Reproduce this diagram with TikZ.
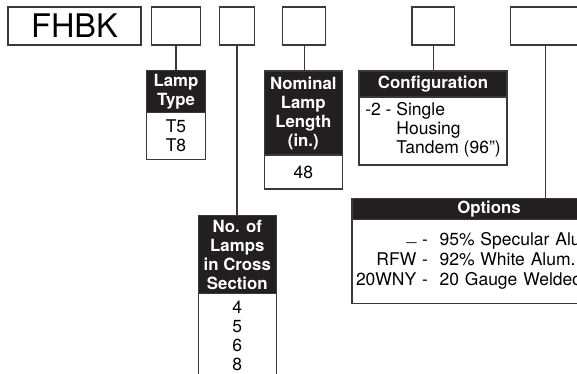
\documentclass[tikz,border=0pt]{standalone}
\usepackage{fontspec}
\setmainfont{TeX Gyre Heros}
\usetikzlibrary{positioning}
\definecolor{headfill}{HTML}{231F20}
\definecolor{rulegray}{HTML}{3A3A3A}
\tikzset{
  codebox/.style={draw=rulegray, line width=1.3pt, inner sep=0pt, outer sep=0pt, minimum height=38pt},
  spechead/.style={draw=rulegray, fill=headfill, text=white, line width=1.3pt, inner sep=0pt, outer sep=0pt,
    align=center, font=\bfseries\fontsize{16.8}{19}\selectfont},
  specbody/.style={draw=rulegray, fill=white, line width=1.3pt, inner sep=0pt, outer sep=0pt,
    align=center, font=\fontsize{17.5}{19}\selectfont},
  link/.style={draw=rulegray, line width=1.3pt}
}
% name, x, top, width, head height, body height, head text, body text, body options
\newcommand\specbox[9]{%
  \node[spechead, anchor=north, minimum width=#4pt, minimum height=#5pt] (#1) at (#2,#3) {#7};
  \node[specbody, minimum width=#4pt, minimum height=#6pt, below=0pt of #1, #9] (#1body) {#8};
}

\begin{document}
\begin{tikzpicture}[x=1pt, y=-1pt]
        \useasboundingbox (0,0) rectangle (577,373);
        \clip (0,0) rectangle (577,373);

        % The code boxes
        \node[codebox, minimum width=133pt, font=\fontsize{32.5}{32}\selectfont] (fhbk) at (74.5,26) {FHBK};
        \node[codebox, minimum width=48.6pt] (typebox) at (176,26) {};
        \node[codebox, minimum width=34.6pt] (countbox) at (237,26) {};
        \node[codebox, minimum width=43pt] (lengthbox) at (304.2,26) {};
        \node[codebox, minimum width=42.3pt] (configbox) at (433.2,26) {};
        \node[codebox, minimum width=69pt] (optionbox) at (545.2,26) {};

        % The spec boxes
        \specbox{lamptype}{176}{70.7}{58.6}{42}{47}{Lamp\\Type}{T5\\T8}{};
        \specbox{length}{303.3}{71}{78}{84}{34}{Nominal\\Lamp\\Length\\(in.)}{48}{};
        \specbox{config}{433}{71}{148}{26}{68}{Configuration}{%
          \begin{tabular}{@{}l@{\ }l@{}}
            -2 - & Single\\
                 & Housing\\
                 & Tandem (96'')
          \end{tabular}}{};
        \specbox{count}{237.3}{215.7}{78}{78}{0}{No. of\\Lamps\\in Cross\\Section}{4\\5\\6\\8}%
          {inner ysep=7pt, text depth=30pt};
        \specbox{options}{489}{198.3}{274}{21}{84}{Options}{%
          \begin{tabular}{@{}r@{\ -\ \ }l@{}}
            \raisebox{5pt}{\_} & 95\% Specular Alu\\
            RFW & 92\% White Alum.\\
            20WNY & 20 Gauge Welded
          \end{tabular}}{text width=266pt, align=left, font=\fontsize{17.5}{20}\selectfont};

        % Links
        \foreach \src/\dst in {typebox/lamptype, countbox/count, lengthbox/length,
                               configbox/config, optionbox/options}
          \draw[link] (\src.south) -- (\src.south |- \dst.north);
\end{tikzpicture}
\end{document}
